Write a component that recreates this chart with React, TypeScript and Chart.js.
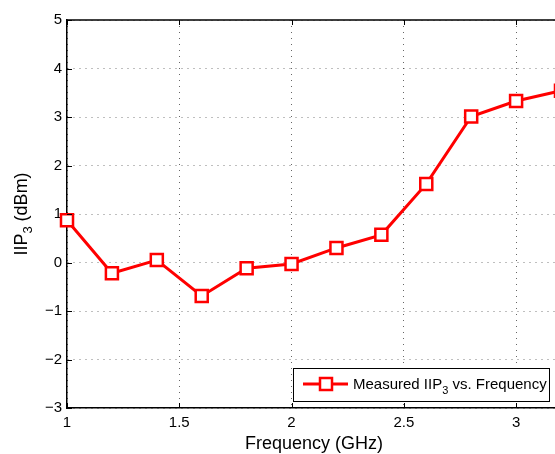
import React, { useEffect, useRef } from "react";
import { Chart, registerables } from "chart.js";

Chart.register(...registerables);

const frequencies = [1.0, 1.2, 1.4, 1.6, 1.8, 2.0, 2.2, 2.4, 2.6, 2.8, 3.0, 3.2];
const iip3Values = [0.87, -0.22, 0.05, -0.69, -0.12, -0.03, 0.3, 0.57, 1.62, 3.01, 3.33, 3.54];
const xTicks = [1, 1.5, 2, 2.5, 3];
const yTicks = [-3, -2, -1, 0, 1, 2, 3, 4, 5];

const FONT = "'Liberation Sans', Arial, Helvetica, sans-serif";
const RED = "#ff0000";

function drawSubText(
  ctx: CanvasRenderingContext2D,
  parts: { t: string; sub?: boolean }[],
  size: number,
  subSize: number,
  subShift: number,
  x: number,
  y: number,
  align: "left" | "center"
) {
  const widths = parts.map((p) => {
    ctx.font = `${p.sub ? subSize : size}px ${FONT}`;
    return ctx.measureText(p.t).width;
  });
  const total = widths.reduce((a, b) => a + b, 0);
  let cx = align === "center" ? x - total / 2 : x;
  ctx.textAlign = "left";
  ctx.textBaseline = "alphabetic";
  parts.forEach((p, i) => {
    ctx.font = `${p.sub ? subSize : size}px ${FONT}`;
    ctx.fillText(p.t, cx, p.sub ? y + subShift : y);
    cx += widths[i];
  });
}

const decorPlugin = {
  id: "decor",
  afterDraw(chart: any) {
    const ctx: CanvasRenderingContext2D = chart.ctx;
    const { left, right, top, bottom } = chart.chartArea;
    const xs = chart.scales.x;
    const ys = chart.scales.y;
    ctx.save();
    ctx.strokeStyle = "#000";
    ctx.lineWidth = 1.5;
    ctx.beginPath();
    ctx.moveTo(left, top);
    ctx.lineTo(right, top);
    ctx.stroke();
    ctx.beginPath();
    ctx.moveTo(right, top);
    ctx.lineTo(right, bottom);
    ctx.stroke();
    ctx.lineWidth = 1;
    const tl = 5;
    xTicks.forEach((v) => {
      const px = Math.round(xs.getPixelForValue(v)) + 0.5;
      ctx.beginPath();
      ctx.moveTo(px, bottom);
      ctx.lineTo(px, bottom - tl);
      ctx.moveTo(px, top);
      ctx.lineTo(px, top + tl);
      ctx.stroke();
    });
    yTicks.forEach((v) => {
      const py = Math.round(ys.getPixelForValue(v)) + 0.5;
      ctx.beginPath();
      ctx.moveTo(left, py);
      ctx.lineTo(left + tl, py);
      ctx.moveTo(right, py);
      ctx.lineTo(right - tl, py);
      ctx.stroke();
    });

    ctx.fillStyle = "#000";
    drawSubText(ctx, [{ t: "Frequency (GHz)" }], 18, 18, 0, (left + right) / 2, 449, "center");
    ctx.save();
    ctx.translate(27, (top + bottom) / 2);
    ctx.rotate(-Math.PI / 2);
    drawSubText(
      ctx,
      [{ t: "IIP" }, { t: "3", sub: true }, { t: " (dBm)" }],
      18,
      13,
      5,
      0,
      0,
      "center"
    );
    ctx.restore();

    const bx = 293.5, by = 368.5, bw = 256, bh = 33;
    ctx.fillStyle = "#fff";
    ctx.fillRect(bx, by, bw, bh);
    ctx.strokeStyle = "#000";
    ctx.lineWidth = 1;
    ctx.strokeRect(bx, by, bw, bh);
    ctx.strokeStyle = RED;
    ctx.lineWidth = 3;
    ctx.beginPath();
    ctx.moveTo(303, 384);
    ctx.lineTo(348, 384);
    ctx.stroke();
    ctx.fillStyle = "#fff";
    ctx.lineWidth = 2.5;
    ctx.fillRect(320, 378, 12, 12);
    ctx.strokeRect(320, 378, 12, 12);
    ctx.fillStyle = "#000";
    drawSubText(
      ctx,
      [{ t: "Measured IIP" }, { t: "3", sub: true }, { t: " vs. Frequency" }],
      15,
      11,
      5,
      353,
      389,
      "left"
    );
    ctx.restore();
  },
};

export default function App() {
  const ref = useRef<HTMLCanvasElement | null>(null);
  useEffect(() => {
    if (!ref.current) return;
    const chart = new Chart(ref.current, {
      type: "line",
      data: {
        datasets: [
          {
            data: frequencies.map((f, i) => ({ x: f, y: iip3Values[i] })),
            borderColor: RED,
            borderWidth: 3,
            pointStyle: "rect",
            pointRadius: 8.5,
            pointBorderWidth: 2.5,
            pointBorderColor: RED,
            pointBackgroundColor: "#fff",
            tension: 0,
            clip: false as any,
          },
        ],
      },
      options: {
        animation: false,
        responsive: false,
        devicePixelRatio: 1,
        layout: { padding: { left: 0, top: 20, right: 5, bottom: 0 } },
        plugins: { legend: { display: false }, tooltip: { enabled: false } },
        scales: {
          x: {
            type: "linear",
            min: 1,
            max: 3.2,
            afterFit: (s: any) => {
              s.height = 46;
            },
            afterBuildTicks: (s: any) => {
              s.ticks = xTicks.map((v) => ({ value: v }));
            },
            ticks: {
              padding: 6,
              color: "#000",
              font: { family: FONT, size: 15 },
              callback: (v: any) => String(v),
            },
            grid: { color: "rgba(0,0,0,0.6)", lineWidth: 1, drawTicks: false },
            border: { display: true, color: "#000", width: 1.5, dash: [1, 5] },
          },
          y: {
            type: "linear",
            min: -3,
            max: 5,
            afterFit: (s: any) => {
              s.width = 67;
            },
            afterBuildTicks: (s: any) => {
              s.ticks = yTicks.map((v) => ({ value: v }));
            },
            ticks: {
              padding: 5,
              color: "#000",
              font: { family: FONT, size: 15 },
              callback: (v: any) => String(v).replace("-", "\u2212"),
            },
            grid: { color: "rgba(0,0,0,0.5)", lineWidth: 1, drawTicks: false },
            border: { display: true, color: "#000", width: 1.5, dash: [1, 5] },
          },
        },
      },
      plugins: [decorPlugin],
    });
    return () => chart.destroy();
  }, []);
  return (
    <div
      style={{
        position: "fixed",
        left: 0,
        top: 0,
        width: 555,
        height: 454,
        overflow: "hidden",
        background: "#fff",
      }}
    >
      <canvas ref={ref} width={572} height={454} style={{ display: "block" }} />
    </div>
  );
}
